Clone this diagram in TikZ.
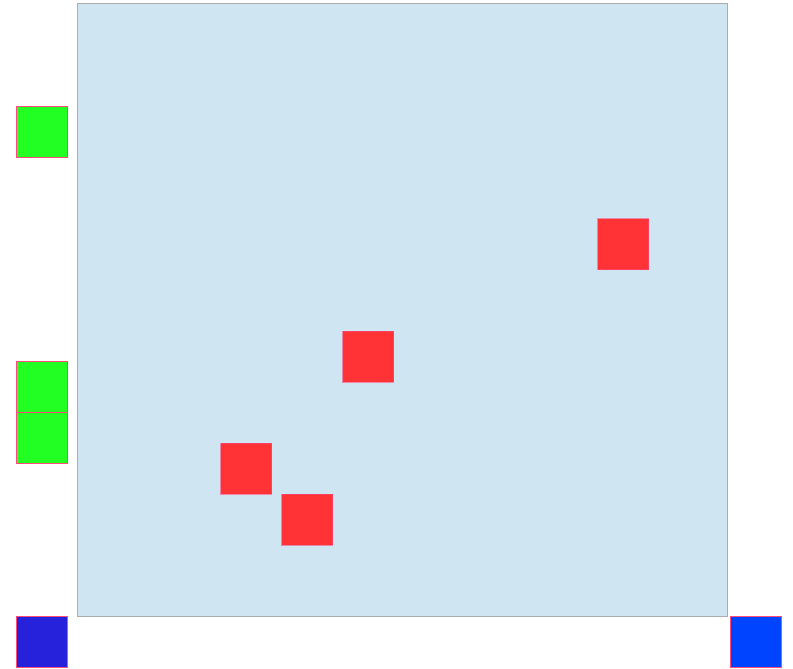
\documentclass[tikz,border=0pt]{standalone}
\usepackage{xcolor}
\usepackage{tikz}
\usetikzlibrary{positioning}

\definecolor{fieldblue}{HTML}{CFE5F2}
\definecolor{fieldedge}{HTML}{A8ADB0}
\definecolor{cellred}{HTML}{FF3236}
\definecolor{cellgreen}{HTML}{22FF22}
\definecolor{celldark}{HTML}{2622DC}
\definecolor{cellblue}{HTML}{0044FF}
\definecolor{celledge}{HTML}{FF4A7A}

\begin{document}
\begin{tikzpicture}[
    x=1pt,y=-1pt,
    cell/.style={draw=celledge,line width=1pt,minimum size=51pt,inner sep=0pt,outer sep=0pt},
    agent/.style={cell,fill=cellred,draw opacity=0.6},
]
    \useasboundingbox (0,0) rectangle (793,669);
    \node[draw=fieldedge,fill=fieldblue,line width=1pt,minimum width=650pt,minimum height=612pt,inner sep=0pt] (field) at (402,310) {};

    \node[cell,fill=cellgreen] (g1) at (41.5,131.5) {};
    \node[cell,fill=cellgreen] (g2) at (41.5,386.5) {};
    \node[cell,fill=cellgreen,below=0pt of g2] (g3) {};
    \node[cell,fill=celldark] (start) at (41.5,641.5) {};
    \node[cell,fill=cellblue] (goal) at (755.5,641.5) {};

    \node[agent] (r1) at (623,244) {};
    \node[agent] (r2) at (368,356.5) {};
    \node[agent] (r3) at (246,468.5) {};
    \node[agent] (r4) at (307,519.5) {};
\end{tikzpicture}
\end{document}
